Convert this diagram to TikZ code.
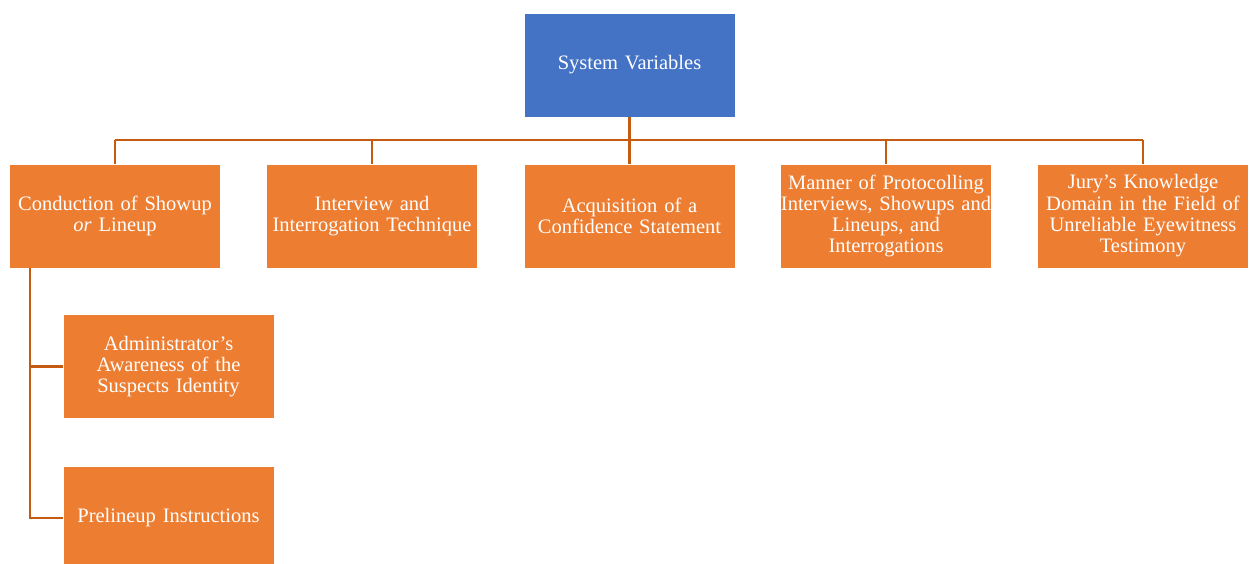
\documentclass[tikz,border=0pt]{standalone}
\usepackage{fontspec}
\setmainfont[WordSpace=0.8]{Liberation Serif}
\definecolor{orangebox}{HTML}{ED7D31}
\definecolor{bluebox}{HTML}{4472C4}
\definecolor{linecol}{HTML}{C55A11}
\begin{document}
\begin{tikzpicture}[x=1pt,y=-1pt,
  box/.style={fill=orangebox, draw=white, line width=0.8pt, minimum width=211pt, minimum height=104pt, text width=211pt, align=center, text=white, inner sep=0pt, font=\fontsize{20.5}{21.3}\selectfont},
  topbox/.style={box, fill=bluebox},
  conn/.style={draw=linecol, line width=2.2pt}]
\useasboundingbox (0,0) rectangle (1259,563);
\node[topbox] (top) at (629.5,65) {System Variables};
\node[box] (c1) at (115,216) {Conduction of Showup\\\textit{or} Lineup};
\node[box] (c2) at (372,216) {Interview and\\Interrogation Technique};
\node[box] (c3) at (629.5,216) {Acquisition of a\\Confidence Statement};
\node[box] (c4) at (886,216) {Manner of Protocolling\\Interviews, Showups and\\Lineups, and\\Interrogations};
\node[box] (c5) at (1143,216) {Jury’s Knowledge\\Domain in the Field of\\Unreliable Eyewitness\\Testimony};
\node[box] (s1) at (168.5,366.5) {Administrator’s\\Awareness of the\\Suspects Identity};
\node[box] (s2) at (168.5,518) {Prelineup Instructions};
\coordinate (bus) at (629.5,140);
\draw[conn] (top.south) -- (bus);
\foreach \n in {c1,c2,c3,c4,c5}{
  \draw[conn] (\n.north) -- (\n.north |- bus);
}
\draw[conn] (c1.north |- bus) -- (c5.north |- bus);
\coordinate (trunk) at (30,268);
\draw[conn] (trunk) -- (30,518) -- (s2.west);
\draw[conn] (30,366.5) -- (s1.west);
\end{tikzpicture}
\end{document}
